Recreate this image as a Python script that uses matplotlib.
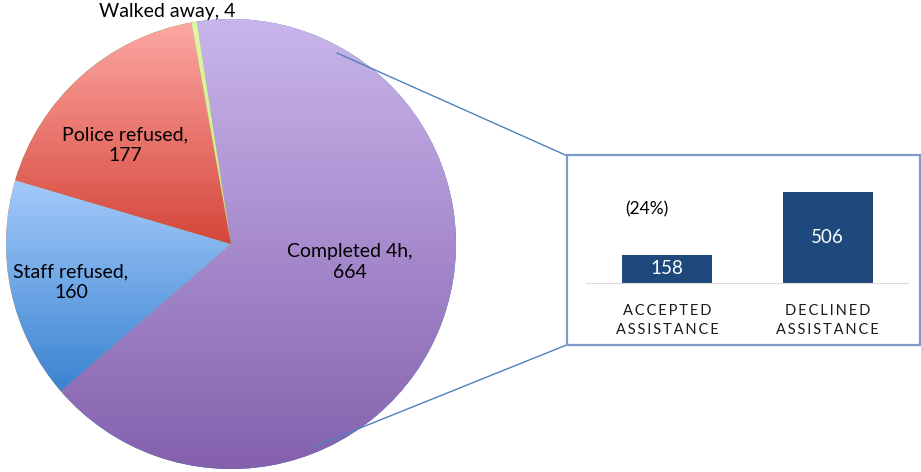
import numpy as np
import matplotlib
matplotlib.use("Agg")
import matplotlib.pyplot as plt
from matplotlib.colors import LinearSegmentedColormap
from matplotlib.patches import Rectangle

plt.rcParams['font.family'] = ['Lato', 'DejaVu Sans']

# pie data
pie_labels = ['Completed 4h,\n664', 'Staff refused,\n160', 'Police refused,\n177', 'Walked away, 4']
pie_values = [664, 160, 177, 4]
# (top colour, bottom colour) for each slice
pie_grads = [('#CAB6EC', '#8460AD'), ('#A4CAFB', '#3A83D0'),
             ('#FDA7A3', '#D5463A'), ('#DDF7A6', '#C9EC8A')]

# breakdown of completed
bar_cats = ['ACCEPTED\nASSISTANCE', 'DECLINED\nASSISTANCE']
bar_values = [158, 506]
bar_note = '(24%)'

W, H = 921, 472
fig = plt.figure(figsize=(W / 100, H / 100), dpi=100)
ax = fig.add_axes([0, 0, 1, 1])

def Y(y):  # picture rows to axes y
    return H - y

wedges, _ = ax.pie(pie_values, startangle=98.7, counterclock=False,
                   center=(231, Y(244)), radius=225,
                   wedgeprops=dict(linewidth=0))

# vertical gradient in every slice
grad = np.linspace(0, 1, 256).reshape(-1, 1)
for w, (top, bot) in zip(wedges, pie_grads):
    v = w.get_path().vertices
    cm = LinearSegmentedColormap.from_list('g', [bot, top])
    im = ax.imshow(grad, extent=(v[:, 0].min(), v[:, 0].max(), v[:, 1].min(), v[:, 1].max()),
                   origin='lower', cmap=cm, aspect='auto', interpolation='bilinear',
                   zorder=w.get_zorder() + 0.1)
    im.set_clip_path(w)

label_pos = [(350, 262), (71, 282), (125, 145), (167, 11)]
for txt, (x, y) in zip(pie_labels, label_pos):
    ax.text(x, Y(y), txt, ha='center', va='center', fontsize=14, color='black',
            linespacing=1.25, zorder=5)

# connector lines + box
ax.plot([337, 566.5], [Y(53), Y(155.5)], color='#4F81BD', lw=1, zorder=6)
ax.plot([313, 566.5], [Y(447), Y(345)], color='#4F81BD', lw=1, zorder=6)
ax.add_patch(Rectangle((566.5, Y(345)), 353, 190, fill=False,
                       edgecolor='#7F9BC6', lw=1.6, zorder=6))

ax.set_xlim(0, W)
ax.set_ylim(0, H)
ax.set_aspect('auto')
ax.axis('off')

# bar chart inside the box
bx = fig.add_axes([586 / W, Y(283) / H, 322 / W, 108 / H])
bars = bx.bar([0, 1], bar_values, width=0.56, color='#1F497D', zorder=2)
bx.bar_label(bars, label_type='center', color='white', fontsize=13.5)
bx.set_xlim(-0.505, 1.5)
bx.set_ylim(0, 600)
bx.set_yticks([])
spaced = ['\n'.join('\u2009'.join(word) for word in c.split('\n')) for c in bar_cats]
bx.set_xticks([0, 1], spaced)
bx.tick_params(axis='x', length=0, pad=15, labelsize=10.5, labelcolor='#1A1A1A')
for lab in bx.get_xticklabels():
    lab.set_linespacing(1.45)
for s in ['top', 'left', 'right']:
    bx.spines[s].set_visible(False)
bx.spines['bottom'].set_color('#D9D9D9')
bx.patch.set_alpha(0)
bx.text(-0.125, 411, bar_note, ha='center', va='center', fontsize=12.5)

fig.savefig('out.png', dpi=100)
